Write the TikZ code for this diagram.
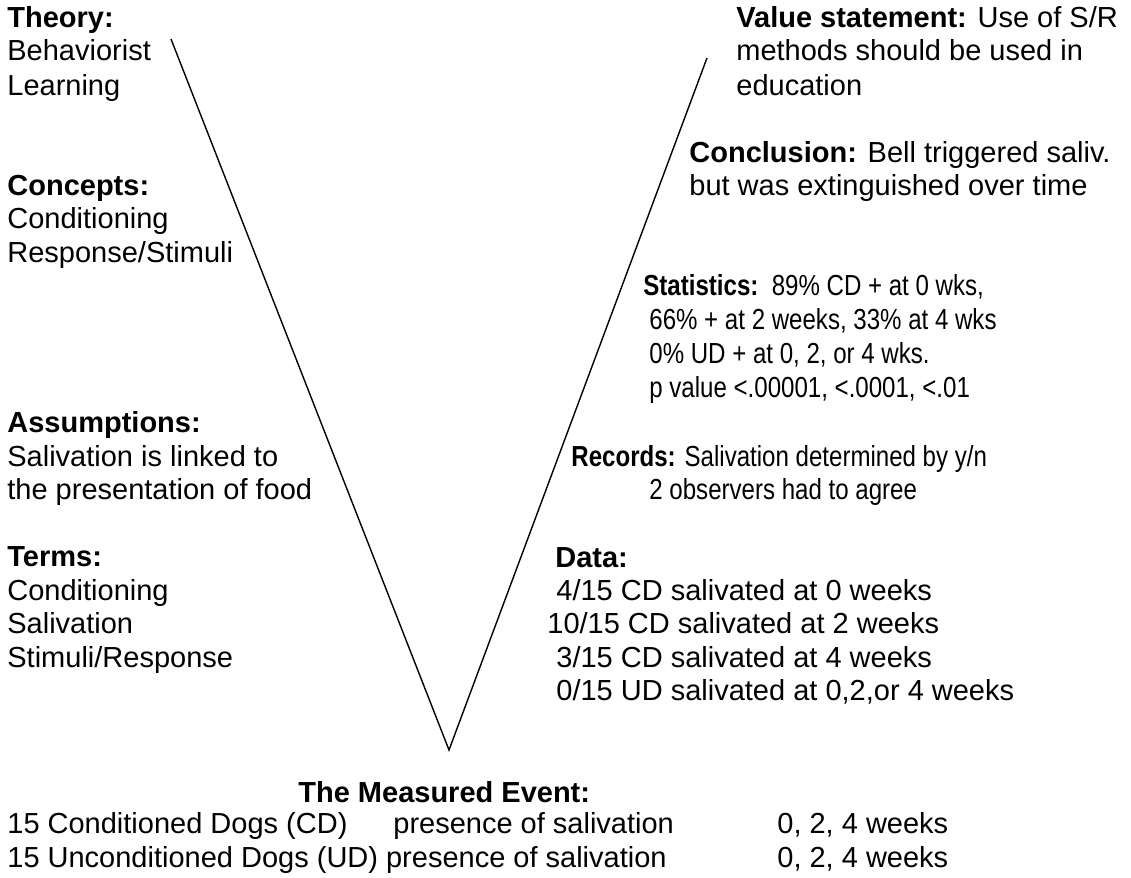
\documentclass[tikz,border=0pt]{standalone}
\usepackage{fontspec}
\setmainfont{Liberation Sans}
\newfontfamily\narrowfont[FakeStretch=0.83]{Liberation Sans}
\tikzset{txt/.style={anchor=base west,inner sep=0pt,font=\fontsize{14.5}{16.75}\selectfont},
  nrw/.style={txt,font=\narrowfont\fontsize{14.5}{16.75}\selectfont}}

\begin{document}
\begin{tikzpicture}[x=0.5pt,y=-0.5pt]
\useasboundingbox (0,0) rectangle (1131,878);
\coordinate (vl) at (171,39);
\coordinate (vb) at (449,750);
\coordinate (vr) at (707,58);
\draw[line width=0.7pt] (vl) -- (vb) -- (vr);
% left side
\node[txt] (th)  at (7,27)  {\textbf{Theory:}};
\node[txt] (th1) at (7,61)  {Behaviorist};
\node[txt] (th2) at (7,95)  {Learning};
\node[txt] (co)  at (7,195) {\textbf{Concepts:}};
\node[txt] (co1) at (7,228) {Conditioning};
\node[txt] (co2) at (7,262) {Response/Stimuli};
\node[txt] (as)  at (7,432) {\textbf{Assumptions:}};
\node[txt] (as1) at (7,466) {Salivation is linked to};
\node[txt] (as2) at (7,499) {the presentation of food};
\node[txt] (te)  at (7,566) {\textbf{Terms:}};
\node[txt] (te1) at (7,600) {Conditioning};
\node[txt] (te2) at (7,633) {Salivation};
\node[txt] (te3) at (7,667) {Stimuli/Response};
% right side
\node[txt] (va)  at (736,27)  {\textbf{Value statement:} Use of S/R};
\node[txt] (va1) at (736,61)  {methods should be used in};
\node[txt] (va2) at (736,95)  {education};
\node[txt] (cn)  at (689,162) {\textbf{Conclusion:} Bell triggered saliv.};
\node[txt] (cn1) at (689,195) {but was extinguished over time};
\node[nrw] (st)  at (643,295) {\textbf{Statistics:}\ \ 89\% CD + at 0 wks,};
\node[nrw] (st1) at (649,329) {66\% + at 2 weeks, 33\% at 4 wks};
\node[nrw] (st2) at (649,363) {0\% UD + at 0, 2, or 4 wks.};
\node[nrw] (st3) at (649,397) {p value <.00001, <.0001, <.01};
\node[nrw] (re)  at (571,466) {\textbf{Records:} Salivation determined by y/n};
\node[nrw] (re1) at (649,499) {2 observers had to agree};
\node[txt] (da)  at (555,567) {\textbf{Data:}};
\node[txt] (da1) at (556,600) {4/15 CD salivated at 0 weeks};
\node[txt] (da2) at (547,633) {10/15 CD salivated at 2 weeks};
\node[txt] (da3) at (556,667) {3/15 CD salivated at 4 weeks};
\node[txt] (da4) at (556,700) {0/15 UD salivated at 0,2,or 4 weeks};
% bottom
\node[txt] (me)  at (298,802) {\textbf{The Measured Event:}};
\node[txt] (me1) at (7,833)   {15 Conditioned Dogs (CD)};
\node[txt] (me2) at (393,833) {presence of salivation};
\node[txt] (me3) at (777,833) {0, 2, 4 weeks};
\node[txt] (me4) at (7,867)   {15 Unconditioned Dogs (UD) presence of salivation};
\node[txt] (me5) at (777,867) {0, 2, 4 weeks};
\end{tikzpicture}
\end{document}
